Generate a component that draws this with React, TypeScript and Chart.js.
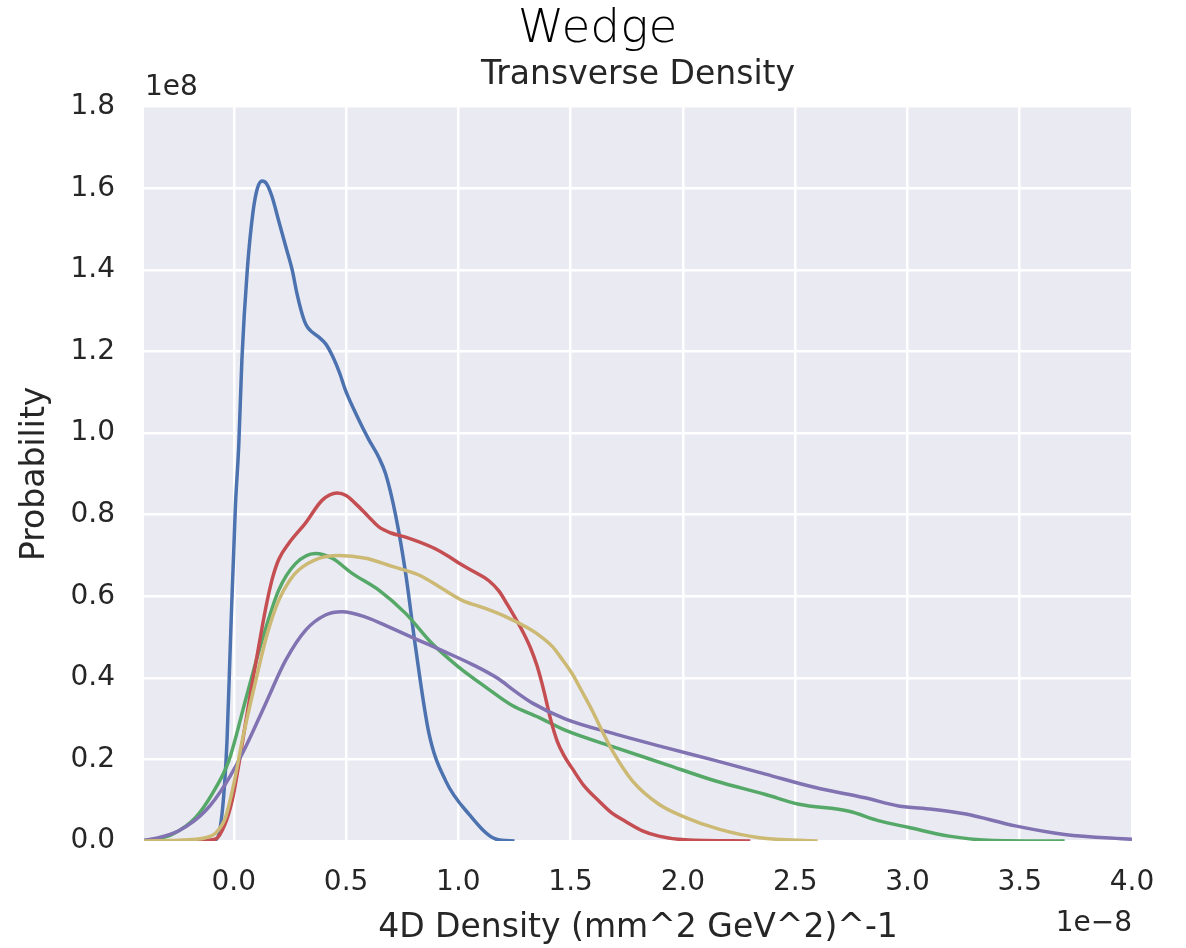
import React, { useEffect, useRef } from "react";
import { Chart, registerables } from "chart.js";

Chart.register(...registerables);

// ---- data (x in units of 1e-8, y in units of 1e8) ----
const chartTitle = "Wedge";
const chartSubtitle = "Transverse Density";
const xAxisTitle = "4D Density (mm^2 GeV^2)^-1";
const yAxisTitle = "Probability";
const xOffsetLabel = "1e\u22128";
const yOffsetLabel = "1e8";

const xTickValues = [0.0, 0.5, 1.0, 1.5, 2.0, 2.5, 3.0, 3.5, 4.0];
const xRange = [-0.4, 4.0];
const yRange = [0.0, 1.8];
const yStep = 0.2;

const blueSeries = [
  [-0.42, 0], [-0.12, 0], [-0.08, 0.003], [-0.05, 0.08], [-0.03, 0.25], [-0.015, 0.49],
  [0.007, 0.82], [0.022, 0.97], [0.036, 1.18], [0.06, 1.4], [0.085, 1.54], [0.105, 1.6],
  [0.126, 1.618], [0.145, 1.612], [0.17, 1.58], [0.2, 1.52], [0.235, 1.45], [0.26, 1.4],
  [0.28, 1.345], [0.3, 1.3], [0.315, 1.274], [0.33, 1.258], [0.35, 1.247], [0.379, 1.235],
  [0.41, 1.218], [0.44, 1.188], [0.472, 1.146], [0.497, 1.105], [0.55, 1.04], [0.6, 0.985],
  [0.646, 0.94], [0.676, 0.9], [0.72, 0.8], [0.765, 0.657], [0.809, 0.476], [0.869, 0.264],
  [0.943, 0.148], [1.047, 0.066], [1.166, 0.005], [1.25, 0],
];

const greenSeries = [
  [-0.42, 0], [-0.35, 0.005], [-0.275, 0.016], [-0.17, 0.058], [-0.097, 0.115],
  [-0.022, 0.197], [0.052, 0.345], [0.126, 0.492], [0.2, 0.615], [0.275, 0.68],
  [0.364, 0.705], [0.438, 0.693], [0.527, 0.656], [0.646, 0.615], [0.765, 0.558],
  [0.883, 0.484], [1.0, 0.427], [1.12, 0.378], [1.24, 0.332], [1.358, 0.303],
  [1.478, 0.271], [1.7, 0.229], [1.923, 0.188], [2.146, 0.147], [2.368, 0.114],
  [2.517, 0.09], [2.74, 0.073], [2.87, 0.05], [3.007, 0.033], [3.185, 0.012],
  [3.36, 0.002], [3.7, 0],
];

const redSeries = [
  [-0.42, 0], [-0.2, 0], [-0.12, 0.002], [-0.08, 0.005], [-0.04, 0.04], [-0.007, 0.1],
  [0.02, 0.18], [0.052, 0.288], [0.08, 0.38], [0.111, 0.477], [0.14, 0.565], [0.17, 0.64],
  [0.2, 0.69], [0.245, 0.73], [0.32, 0.78], [0.393, 0.835], [0.46, 0.853], [0.5, 0.847],
  [0.542, 0.827], [0.6, 0.795], [0.646, 0.77], [0.7, 0.755], [0.765, 0.745], [0.883, 0.72],
  [0.95, 0.7], [1.0, 0.682], [1.07, 0.66], [1.136, 0.638], [1.18, 0.613], [1.22, 0.578],
  [1.26, 0.54], [1.29, 0.51], [1.32, 0.475], [1.35, 0.43], [1.38, 0.37], [1.41, 0.3],
  [1.44, 0.245], [1.47, 0.21], [1.507, 0.178], [1.56, 0.135], [1.626, 0.098], [1.68, 0.07],
  [1.745, 0.048], [1.82, 0.025], [1.893, 0.012], [2.01, 0.003], [2.3, 0],
];

const purpleSeries = [
  [-0.42, 0], [-0.35, 0.006], [-0.245, 0.025], [-0.126, 0.074], [-0.037, 0.14],
  [0.052, 0.23], [0.141, 0.336], [0.23, 0.442], [0.32, 0.517], [0.408, 0.554],
  [0.482, 0.562], [0.587, 0.549], [0.705, 0.521], [0.824, 0.492], [0.943, 0.463],
  [1.061, 0.433], [1.18, 0.397], [1.25, 0.368], [1.33, 0.338], [1.478, 0.299],
  [1.7, 0.262], [1.923, 0.229], [2.146, 0.197], [2.368, 0.164], [2.59, 0.131],
  [2.81, 0.106], [2.96, 0.086], [3.11, 0.078], [3.26, 0.066], [3.48, 0.037],
  [3.7, 0.016], [4.0, 0.004],
];

const yellowSeries = [
  [-0.42, 0], [-0.2, 0.003], [-0.126, 0.008], [-0.08, 0.02], [-0.037, 0.058], [0.0, 0.14],
  [0.037, 0.245], [0.075, 0.34], [0.111, 0.425], [0.15, 0.51], [0.2, 0.59], [0.25, 0.64],
  [0.29, 0.665], [0.379, 0.693], [0.468, 0.7], [0.587, 0.693], [0.705, 0.673],
  [0.824, 0.652], [0.913, 0.624], [1.017, 0.59], [1.12, 0.57], [1.21, 0.55], [1.3, 0.525],
  [1.358, 0.505], [1.418, 0.477], [1.46, 0.447], [1.507, 0.41], [1.55, 0.367],
  [1.596, 0.32], [1.64, 0.27], [1.685, 0.222], [1.774, 0.148], [1.893, 0.09],
  [2.01, 0.058], [2.16, 0.029], [2.34, 0.008], [2.6, 0],
];

const seriesList = [
  { name: "series 1", data: blueSeries, color: "#4C72B0" },
  { name: "series 2", data: greenSeries, color: "#55A868" },
  { name: "series 3", data: redSeries, color: "#C44E52" },
  { name: "series 4", data: purpleSeries, color: "#8172B2" },
  { name: "series 5", data: yellowSeries, color: "#CCB974" },
];

const TEXT_COLOR = "#262626";
const FONT = "'DejaVu Sans', sans-serif";
const LEFT_PAD = 63;

const plotBackground = {
  id: "plotBackground",
  beforeDraw(chart: any) {
    const { ctx, chartArea: a } = chart;
    ctx.save();
    ctx.fillStyle = "#EAEAF2";
    ctx.fillRect(a.left, a.top, a.right - a.left, a.bottom - a.top);
    ctx.restore();
  },
};

const offsetLabels = {
  id: "offsetLabels",
  afterDraw(chart: any) {
    const { ctx, chartArea: a } = chart;
    ctx.save();
    ctx.font = `28px ${FONT}`;
    ctx.fillStyle = TEXT_COLOR;
    ctx.textBaseline = "alphabetic";
    ctx.textAlign = "left";
    ctx.fillText(yOffsetLabel, a.left + 1, a.top - 12);
    ctx.textAlign = "right";
    ctx.fillText(xOffsetLabel, a.right, a.bottom + 90);
    ctx.restore();
  },
};

export default function App() {
  const canvasRef = useRef<HTMLCanvasElement>(null);

  useEffect(() => {
    const canvas = canvasRef.current;
    if (!canvas) return;
    const datasets = seriesList
      .map((s) => ({
        label: s.name,
        data: s.data.map(([x, y]) => ({ x, y })),
        borderColor: s.color,
        backgroundColor: s.color,
        borderWidth: 3.5,
        pointRadius: 0,
        fill: false,
        cubicInterpolationMode: "monotone" as const,
      }))
      .reverse();

    const chart = new Chart(canvas, {
      type: "line",
      data: { datasets },
      plugins: [plotBackground, offsetLabels],
      options: {
        animation: false,
        responsive: false,
        maintainAspectRatio: false,
        layout: { padding: { top: 0, left: LEFT_PAD, right: 54, bottom: 0 } },
        plugins: {
          legend: { display: false },
          tooltip: { enabled: false },
          title: {
            display: true,
            text: chartTitle,
            color: "#000000",
            font: { family: FONT, size: 47, weight: "200" as any, lineHeight: 1.1 },
            padding: { top: 4, bottom: 0 },
          },
          subtitle: {
            display: true,
            fullSize: false,
            text: chartSubtitle,
            color: TEXT_COLOR,
            font: { family: FONT, size: 33, lineHeight: 1.2 },
            padding: { top: 0, bottom: 11.4 },
          },
        },
        scales: {
          x: {
            type: "linear",
            min: xRange[0],
            max: xRange[1],
            afterBuildTicks: (scale: any) => {
              scale.ticks = xTickValues.map((v) => ({ value: v }));
            },
            afterFit: (scale: any) => {
              scale.height = 107;
              scale.paddingLeft = 0;
              scale.paddingRight = 0;
            },
            grid: { color: "#FFFFFF", lineWidth: 2.5, drawTicks: false },
            border: { display: false },
            ticks: {
              padding: 25,
              color: TEXT_COLOR,
              font: { family: FONT, size: 28 },
              maxRotation: 0,
              autoSkip: false,
              callback: (v: any) => Number(v).toFixed(1),
            },
            title: {
              display: true,
              text: xAxisTitle,
              color: TEXT_COLOR,
              font: { family: FONT, size: 33 },
              padding: { top: 0, bottom: 0 },
            },
          },
          y: {
            type: "linear",
            min: yRange[0],
            max: yRange[1],
            afterFit: (scale: any) => {
              scale.width = 144 - LEFT_PAD;
              scale.paddingTop = 0;
              scale.paddingBottom = 0;
            },
            grid: { color: "#FFFFFF", lineWidth: 2.5, drawTicks: false },
            border: { display: false },
            ticks: {
              stepSize: yStep,
              padding: 29,
              color: TEXT_COLOR,
              font: { family: FONT, size: 28 },
              autoSkip: false,
              callback: (v: any) => Number(v).toFixed(1),
            },
            title: {
              display: true,
              text: yAxisTitle,
              color: TEXT_COLOR,
              font: { family: FONT, size: 33 },
              padding: { top: 16 - LEFT_PAD, bottom: 0 },
            },
          },
        },
      },
    });
    return () => chart.destroy();
  }, []);

  return (
    <div style={{ position: "absolute", left: 0, top: 0, width: 1186, height: 948, background: "#ffffff" }}>
      <canvas ref={canvasRef} width={1186} height={948} style={{ display: "block" }} />
    </div>
  );
}
